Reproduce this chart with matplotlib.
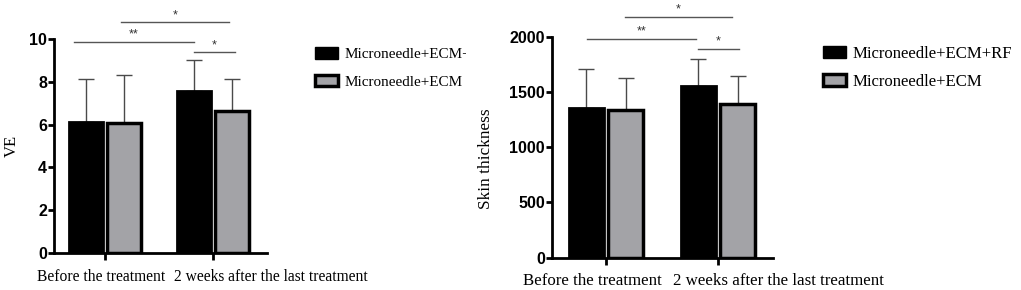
import matplotlib
matplotlib.use("Agg")
import matplotlib.pyplot as plt
import numpy as np
from matplotlib.patches import Patch
from matplotlib.transforms import Bbox

categories = ["Before the treatment", "2 weeks after the last treatment"]
series = ["Microneedle+ECM+RF", "Microneedle+ECM"]

ve_rf = [6.13, 7.58]
ve_rf_sd = [2.00, 1.44]
ve_ecm = [6.06, 6.64]
ve_ecm_sd = [2.27, 1.49]

st_rf = [1357, 1551]
st_rf_sd = [351, 244]
st_ecm = [1337, 1394]
st_ecm_sd = [292, 253]

# significance brackets: (x_start, x_end, height, label)
ve_sig = [(-0.29, 0.82, 9.86, "**"), (0.15, 1.15, 10.79, "*"), (0.82, 1.20, 9.39, "*")]
st_sig = [(-0.17, 0.80, 1979, "**"), (0.17, 1.12, 2181, "*"), (0.82, 1.19, 1889, "*")]

W, H = 1021, 290
DPI = 100
fig = plt.figure(figsize=(W / DPI, H / DPI), dpi=DPI)

BLACK = "#000000"
GRAY = "#a3a3a7"
serif = ["Liberation Serif", "DejaVu Serif"]
sans = ["Liberation Sans", "DejaVu Sans"]


def make_panel(rect_px, ylim, yticks, vals_rf, sd_rf, vals_ecm, sd_ecm, sig, ylabel, xlim,
               ylabel_xy, cat_fs, cat_offsets, cat_dy, ytick_fs, ylabel_fs):
    l, b, r, t = rect_px
    ax = fig.add_axes([l / W, 1 - b / H, (r - l) / W, (b - t) / H])
    x = np.arange(len(categories))
    off, w = 0.176, 0.31
    ax.bar(x - off, vals_rf, w, color=BLACK, edgecolor=BLACK, linewidth=2, zorder=3)
    ax.bar(x + off, vals_ecm, w, color=GRAY, edgecolor=BLACK, linewidth=2.5, zorder=3)
    ax.errorbar(x - off, vals_rf, yerr=[np.zeros(len(x)), sd_rf], fmt="none",
                ecolor="#4a4a4a", elinewidth=1, capsize=6, capthick=1, zorder=2)
    ax.errorbar(x + off, vals_ecm, yerr=[np.zeros(len(x)), sd_ecm], fmt="none",
                ecolor="#4a4a4a", elinewidth=1, capsize=6, capthick=1, zorder=2)
    ax.set_xlim(*xlim)
    ax.set_ylim(*ylim)
    ax.set_yticks(yticks)
    ax.set_xticks(x)
    ax.set_xticklabels([])
    for xi, cat, (dx, ha) in zip(x, categories, cat_offsets):
        ax.annotate(cat, xy=(xi, ylim[0]), xytext=(dx, -cat_dy), textcoords="offset pixels",
                    ha=ha, va="top", family=serif, fontsize=cat_fs, annotation_clip=False)
    for lab in ax.get_yticklabels():
        lab.set_family(sans)
        lab.set_fontweight("bold")
        lab.set_fontsize(ytick_fs)
    ax.spines["top"].set_visible(False)
    ax.spines["right"].set_visible(False)
    for s in ("left", "bottom"):
        ax.spines[s].set_linewidth(2)
    ax.tick_params(axis="y", width=2, length=4, pad=1)
    ax.tick_params(axis="x", width=2, length=5, pad=3)
    ax.set_ylabel(ylabel, family=serif, fontsize=ylabel_fs, va="center")
    ax.yaxis.set_label_coords(*ylabel_xy)
    yr = ylim[1] - ylim[0]
    for x0, x1, h, lab in sig:
        ax.plot([x0, x1], [h, h], color="#555555", lw=1, clip_on=False)
        ax.text((x0 + x1) / 2, h + yr * 0.005, lab, ha="center", va="bottom",
                fontsize=9, color="#333333", family=sans)
    return ax


ax1 = make_panel((54, 253, 267, 39), (0, 10), [0, 2, 4, 6, 8, 10],
                 ve_rf, ve_rf_sd, ve_ecm, ve_ecm_sd, ve_sig, "VE",
                 (-0.472, 1.5), (-0.197, 0.5), 11.2,
                 [(-3.5, "center"), (-39, "left")], 16, 11.5, 12)
ax2 = make_panel((552, 257.7, 773, 36.7), (0, 2000), [0, 500, 1000, 1500, 2000],
                 st_rf, st_rf_sd, st_ecm, st_ecm_sd, st_sig, "Skin thickness",
                 (-0.482, 1.49), (-0.30, 0.45), 12.2,
                 [(-13.5, "center"), (-45, "left")], 15, 11.5, 12.4)

handles = [Patch(facecolor=BLACK, edgecolor=BLACK, linewidth=1),
           Patch(facecolor=GRAY, edgecolor=BLACK, linewidth=2.5)]


def legend_kw(fs):
    px = fs * DPI / 72
    return dict(frameon=False, loc="upper left", prop={"family": serif, "size": fs},
                handlelength=23 / px, handleheight=12 / px, handletextpad=7 / px,
                labelspacing=(29 - px * 1.0) / px, borderpad=0, borderaxespad=0)


leg1 = fig.legend(handles, series, bbox_to_anchor=(315 / W, 1 - 47 / H), **legend_kw(10.9))
leg2 = fig.legend(handles, series, bbox_to_anchor=(823 / W, 1 - 46 / H), **legend_kw(12.1))

clip = Bbox.from_extents(0, 0, 466, H)
for t in leg1.get_texts():
    t.set_clip_box(clip)
    t.set_clip_on(True)

fig.savefig("out.png", dpi=DPI)
